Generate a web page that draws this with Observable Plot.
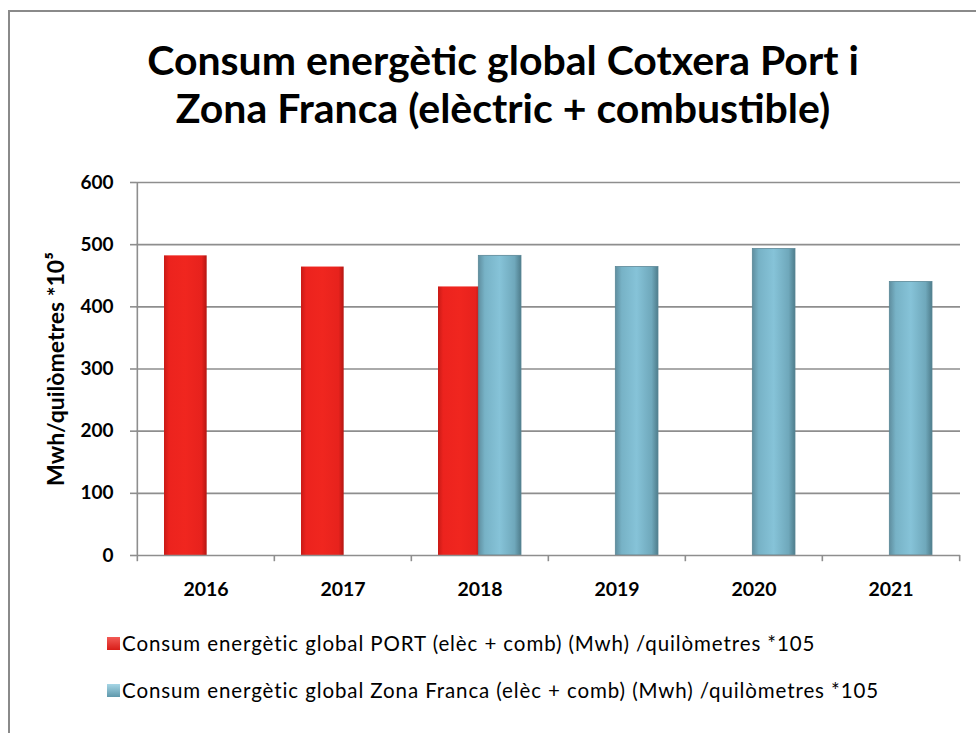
<!DOCTYPE html>
<html>
<head>
<meta charset="utf-8">
<script src="https://cdn.jsdelivr.net/npm/d3@7"></script>
<script src="https://cdn.jsdelivr.net/npm/@observablehq/plot@0.6"></script>
<style>
  html, body { margin: 0; padding: 0; background: #fff; }
  body { width: 976px; height: 733px; position: relative; overflow: hidden; font-family: Lato, "Open Sans", sans-serif; }
  #frame { position: absolute; left: 8px; top: 10px; width: 990px; height: 760px; border-left: 2px solid #8a8a8a; border-top: 2px solid #8a8a8a; }
  #title { position: absolute; left: 0; width: 1006px; top: 36px; text-align: center; font-weight: bold; font-size: 41px; line-height: 48px; color: #000; }
  #chart { position: absolute; left: 0; top: 0; }
  .leg { position: absolute; left: 107px; font-size: 20.5px; letter-spacing: 0.9px; color: #000; display: flex; align-items: center; white-space: nowrap; }
  .sw { width: 13px; height: 13px; margin-right: 2px; }
</style>
</head>
<body>
<div id="frame"></div>
<div id="title">Consum energètic global Cotxera Port i<br>Zona Franca (elèctric + combustible)</div>
<div id="chart"></div>
<div class="leg" id="leg1" style="top:631px"><span class="sw" style="background:linear-gradient(#f25a55,#d81d18)"></span><span id="l1"></span></div>
<div class="leg" id="leg2" style="top:678px"><span class="sw" style="background:linear-gradient(#a6d6e6,#5f98ab)"></span><span id="l2"></span></div>
<script>
const years = ["2016", "2017", "2018", "2019", "2020", "2021"];
const portValues = [482, 464, 432, null, null, null];
const zonaValues = [null, null, 482, 464, 493, 440];
const seriesNames = [
  "Consum energètic global PORT (elèc + comb) (Mwh) /quilòmetres *105",
  "Consum energètic global Zona Franca (elèc + comb) (Mwh) /quilòmetres *105"
];
const yTicks = [0, 100, 200, 300, 400, 500, 600];
const yLabel = "Mwh/quilòmetres *10⁵";

document.getElementById("l1").textContent = seriesNames[0];
document.getElementById("l2").textContent = seriesNames[1];

const portData = years.map((y, i) => ({year: y, value: portValues[i]})).filter(d => d.value != null);
const zonaData = years.map((y, i) => ({year: y, value: zonaValues[i]})).filter(d => d.value != null);

const W = 976, mL = 136, mR = 16;
const step = (W - mL - mR) / years.length;
const boundaries = years.map((y) => ({year: y}));

const plot = Plot.plot({
  width: W,
  height: 620,
  marginLeft: mL,
  marginRight: mR,
  marginTop: 182,
  marginBottom: 65,
  style: {fontFamily: "Lato, 'Open Sans', sans-serif", fontSize: "19px", fontWeight: "bold", color: "#000", background: "transparent"},
  x: {type: "band", domain: years, padding: 0, label: null},
  y: {domain: [0, 600], ticks: yTicks, label: yLabel},
  marks: [
    Plot.gridY(yTicks.slice(1), {stroke: "#8e8e8e", strokeOpacity: 1, strokeWidth: 1.6}),
    Plot.barY(portData, {x: "year", y: "value", fill: "url(#redGrad)", insetLeft: 27, insetRight: step - 27 - 43}),
    Plot.barY(zonaData, {x: "year", y: "value", fill: "url(#blueGrad)", stroke: "#5b8797", strokeWidth: 0.8, insetLeft: step - 27 - 43, insetRight: 27}),
    Plot.ruleY([0], {stroke: "#8e8e8e", strokeWidth: 1.6}),
    Plot.ruleX(boundaries, {x: "year", y1: 0, y2: -10, dx: -step / 2, stroke: "#8e8e8e", strokeWidth: 1.6}),
    Plot.ruleX(boundaries.slice(-1), {x: "year", y1: 0, y2: -10, dx: step / 2, stroke: "#8e8e8e", strokeWidth: 1.6}),
    Plot.axisY(yTicks, {tickSize: 6, tickPadding: 17, stroke: "#8e8e8e", strokeWidth: 1.6, label: yLabel, labelAnchor: "center", labelArrow: "none", labelOffset: 89, fontSize: 19, fontWeight: "bold"}),
    Plot.ruleX([years[0]], {dx: -step / 2, y1: 0, y2: 600, stroke: "#8e8e8e", strokeWidth: 1.6}),
    Plot.axisX(years, {tickSize: 0, tickPadding: 27, fontSize: 19.5, fontWeight: "bold", label: null})
  ]
});

const svg = d3.select(plot);
// enlarge the y-axis title
svg.selectAll("g[aria-label='y-axis label'] text, g[aria-label='y-axis label']").style("font-size", "23px");

const defs = svg.insert("defs", ":first-child");
const rg = defs.append("linearGradient").attr("id", "redGrad").attr("x1", 0).attr("x2", 1).attr("y1", 0).attr("y2", 0);
[[0, "#c81a16"], [0.12, "#ec231e"], [0.5, "#f0261f"], [0.88, "#e7221d"], [1, "#b41612"]].forEach(([o, c]) => rg.append("stop").attr("offset", o).attr("stop-color", c));
const bg = defs.append("linearGradient").attr("id", "blueGrad").attr("x1", 0).attr("x2", 1).attr("y1", 0).attr("y2", 0);
[[0, "#5f8e9f"], [0.15, "#77b2c6"], [0.5, "#86c3d8"], [0.85, "#6fa8bb"], [1, "#4f7d8c"]].forEach(([o, c]) => bg.append("stop").attr("offset", o).attr("stop-color", c));

document.getElementById("chart").appendChild(plot);
</script>
</body>
</html>
